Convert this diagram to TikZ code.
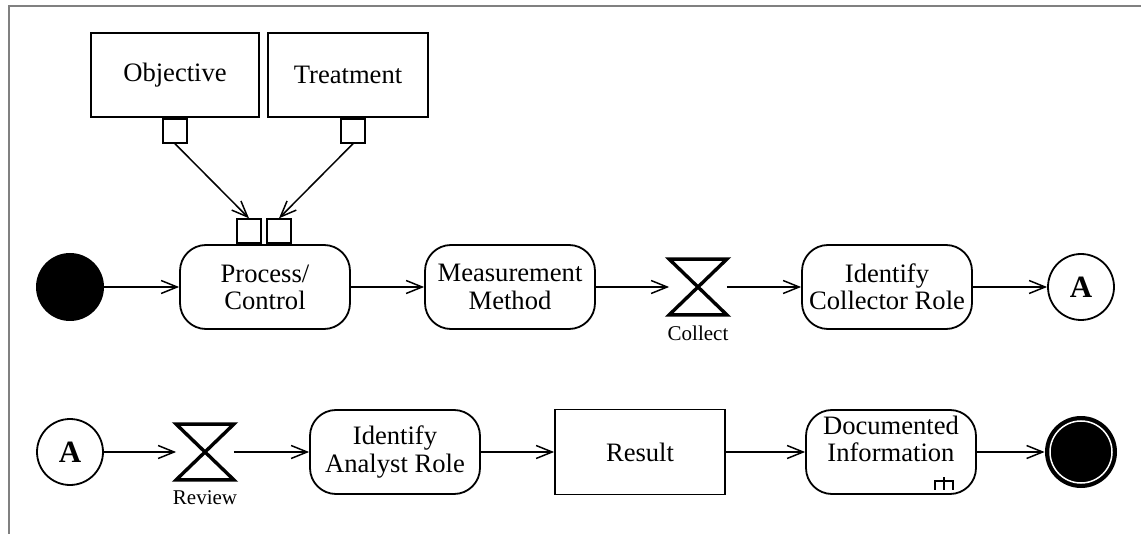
\documentclass[tikz,border=0pt]{standalone}
\usepackage{fontspec}
\setmainfont{Liberation Serif}
\usetikzlibrary{arrows.meta, positioning}

\begin{document}
\begin{tikzpicture}[x=0.5pt,y=-0.5pt,on grid,>={Straight Barb[length=8pt,width=6.5pt]},
        font=\fontsize{13.3}{13.6}\selectfont,
        action/.style={draw,line width=0.9pt,rounded corners=13pt,minimum width=85pt,minimum height=42pt,align=center,inner sep=1pt},
        object/.style={draw,line width=0.9pt,minimum width=85pt,minimum height=42pt},
        pinbox/.style={draw,line width=0.9pt,minimum size=12pt,inner sep=0pt},
        hglass/.style={minimum width=28.5pt,minimum height=27.5pt,inner sep=0pt},
        conn/.style={circle,draw,line width=0.9pt,minimum size=33pt,inner sep=0pt,font=\fontsize{15.5}{15.5}\selectfont\bfseries},
        initst/.style={circle,fill,minimum size=34pt,inner sep=0pt},
        finalst/.style={circle,fill,minimum size=36pt,inner sep=0pt},
        small/.style={font=\fontsize{10.5}{11}\selectfont,label distance=2pt},
        flow/.style={->,line width=0.75pt}]

    \useasboundingbox (0,0) rectangle (1141,534);
    \draw[gray,line width=1pt] (9,534) -- (9,6) -- (1141,6);

    % first row
    \node[initst]  (init) at (70,287) {};
    \node[action]  (proc)    [right=97.5pt of init]  {Process/\\Control};
    \node[action]  (meas)    [right=122.5pt of proc] {Measurement\\Method};
    \node[hglass,label={[small]below:Collect}] (collect) [right=94pt of meas] {};
    \node[action]  (collr)   [right=94.5pt of collect] {Identify\\Collector Role};
    \node[conn]    (goA)     [right=97pt of collr]   {A};

    % input objects and pins
    \node[object,minimum width=84pt] (obj)   at (175,75) {Objective};
    \node[object,minimum width=80pt] (treat) at (348,75) {Treatment};
    \node[pinbox,anchor=north] (objpin)   at (obj.south) {};
    \node[pinbox,anchor=north] (treatpin) at ([xshift=2.5pt]treat.south) {};
    \node[pinbox,anchor=south] (inpin1)   at ([xshift=-8pt]proc.north) {};
    \node[pinbox,anchor=south] (inpin2)   at ([xshift=7pt]proc.north) {};

    % second row
    \node[conn]    (fromA)   [below=82.5pt of init]   {A};
    \node[hglass,label={[small]below:Review}] (review) [right=67.5pt of fromA] {};
    \node[action]  (analyst) [right=95pt of review]   {Identify\\Analyst Role};
    \node[object,minimum height=42.5pt] (result) [right=122.5pt of analyst] {Result};
    \node[action,label={[align=center,yshift=6.5pt]center:Documented\\Information}]
                   (docinfo) [right=125.5pt of result] {};
    \node[finalst] (final)   [right=95pt of docinfo]  {};

    % time events
    \foreach \hg in {collect,review}
      \draw[line width=1.7pt] (\hg.north west) -- (\hg.north east)
        -- (\hg.south west) -- (\hg.south east) -- cycle;

    % rake and final ring
    \draw[line width=0.75pt] ([xshift=-16.5pt,yshift=2.5pt]docinfo.south east) -- ++(0,6.5pt)
          ([xshift=-21pt,yshift=2.5pt]docinfo.south east) -- ++(0,4.5pt) -- ++(9pt,0) -- ++(0,-4.5pt);
    \draw[white,line width=0.75pt] (final.center) circle[radius=15.5pt];

    \draw[flow] (init) -- (proc);
    \draw[flow] (proc) -- (meas);
    \draw[flow] (meas) -- (collect);
    \draw[flow] (collect) -- (collr);
    \draw[flow] (collr) -- (goA);
    \draw[flow] (objpin.south) -- (inpin1.north);
    \draw[flow] (treatpin.south) -- (inpin2.north);
    \draw[flow] (fromA) -- (review);
    \draw[flow] (review) -- (analyst);
    \draw[flow] (analyst) -- (result);
    \draw[flow] (result) -- (docinfo);
    \draw[flow] (docinfo) -- (final);
\end{tikzpicture}
\end{document}
